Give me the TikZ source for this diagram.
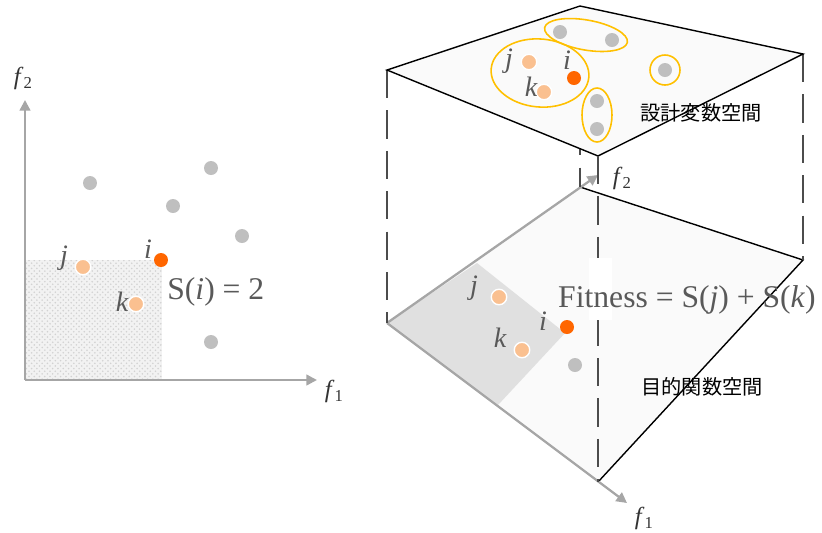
\documentclass[tikz,border=0pt]{standalone}
\usepackage{fontspec}
\setmainfont{Liberation Serif}
\newfontfamily\jpfont{Noto Sans CJK JP}
\usetikzlibrary{arrows.meta,patterns}
\definecolor{dotgray}{HTML}{BFBFBF}
\definecolor{hiorange}{HTML}{FF6600}
\definecolor{peach}{HTML}{FAC090}
\definecolor{ringyellow}{HTML}{FFC000}
\definecolor{txtgray}{HTML}{595959}
\definecolor{axgray}{HTML}{A6A6A6}
\definecolor{planefill}{HTML}{FAFAFA}
\definecolor{domfill}{HTML}{E0E0E0}
\newcommand{\fsub}[1]{\textit{f}\raisebox{-0.4ex}{\fontsize{9.5}{10}\selectfont #1}}

\begin{document}
\begin{tikzpicture}[x=0.02cm,y=-0.02cm,
  gdot/.style={circle,fill=dotgray,minimum size=0.28cm,inner sep=0pt},
  pdot/.style={circle,fill=peach,draw=white,line width=0.8pt,minimum size=0.31cm,inner sep=0pt},
  odot/.style={circle,fill=hiorange,minimum size=0.28cm,inner sep=0pt},
  lbl/.style={font=\fontsize{16}{16}\selectfont\itshape,text=txtgray,inner sep=0pt},
  big/.style={font=\fontsize{18}{18}\selectfont,text=txtgray,inner sep=0pt},
  flbl/.style={font=\fontsize{14}{14}\selectfont,text=black!80,inner sep=0pt},
  jp/.style={font=\jpfont\fontsize{11.5}{12}\selectfont,inner sep=0pt},
  axis/.style={axgray,line width=1.3pt,-{Triangle[length=6pt,width=6pt]}},
  edge/.style={black,line width=0.8pt},
  vline/.style={black!70,line width=0.7pt,dash pattern=on 16pt off 7pt},
  ring/.style={ringyellow,line width=0.9pt}]
\useasboundingbox (0,0) rectangle (822,532);

% left: objective space with the dominated box of i
\fill[gray!10] (25,260) rectangle (162,380);
\fill[pattern=crosshatch dots,pattern color=gray!35] (25,260) rectangle (162,380);
\coordinate (o) at (25,380);
\coordinate (ax1) at (317,380);
\coordinate (ax2) at (25,100);
\draw[axis] (o) -- (ax1);
\draw[axis] (o) -- (ax2);
\node[flbl] (lf1) at (334,391) {\fsub{1}};
\node[flbl] (lf2) at (23,78) {\fsub{2}};

\node[gdot] (lg1) at (90,183) {};
\node[gdot] (lg2) at (211,168) {};
\node[gdot] (lg3) at (173,206) {};
\node[gdot] (lg4) at (242,236) {};
\node[gdot] (lg5) at (211,342) {};
\node[odot] (li) at (161,260) {};
\node[pdot] (lj) at (83,267) {};
\node[pdot] (lk) at (136,304) {};
\node[lbl] at (148,249) {i};
\node[lbl] at (64,258) {j};
\node[lbl] at (122,302) {k};
\node[big,anchor=west] (si) at (167,292) {S(\textit{i}) = 2};

% right: lower plane (objective space)
\coordinate (bl) at (387,323);
\coordinate (bb) at (580,187);
\coordinate (br) at (803,260);
\coordinate (bf) at (598,482);
\fill[planefill] (bl) -- (bb) -- (br) -- (bf) -- cycle;
\fill[domfill] (bl) -- (477,263) -- (565,333) -- (498,405) -- cycle;
\draw[edge] (bb) -- (br) -- (bf);
\coordinate (bx1) at (627,503);
\coordinate (bx2) at (598,175);
\draw[axis] (bl) -- (bx1);
\draw[axis] (bl) -- (bx2);
\node[flbl] (rf1) at (644,518) {\fsub{1}};
\node[flbl] (rf2) at (622,178) {\fsub{2}};

% right: upper plane (design space)
\coordinate (tl) at (387,70);
\coordinate (tb) at (580,6);
\coordinate (tr) at (803,54);
\coordinate (tf) at (598,156);
\draw[vline] (tb) -- (bb);
\draw[vline] (tl) -- (bl);
\draw[vline] (tr) -- (br);
\filldraw[fill=planefill,draw=black,line width=0.8pt] (tl) -- (tb) -- (tr) -- (tf) -- cycle;
\draw[vline] (tf) -- (bf);

\draw[ring,rotate around={-5:(540,73)}] (540,73) ellipse [x radius=49,y radius=34];
\draw[ring,rotate around={-10:(586,35)}] (586,35) ellipse [x radius=42,y radius=15];
\draw[ring] (665,70) circle [radius=15];
\draw[ring] (597,115) ellipse [x radius=15,y radius=27];

\node[gdot] (tg1) at (560,32) {};
\node[gdot] (tg2) at (612,40) {};
\node[gdot] (tg3) at (665,70) {};
\node[gdot] (tg4) at (597,101) {};
\node[gdot] (tg5) at (597,129) {};
\node[pdot] (tj) at (529,62) {};
\node[pdot] (tk) at (544,92) {};
\node[odot] (ti) at (574,78) {};
\node[lbl] at (509,61) {j};
\node[lbl] at (531,87) {k};
\node[lbl] at (567,60) {i};
\node[jp] (dspace) at (701,113) {設計変数空間};

% points in the lower plane
\node[pdot] (bj) at (499,297) {};
\node[pdot] (bk) at (522,350) {};
\node[odot] (bi) at (567,327) {};
\node[gdot] (bg) at (575,365) {};
\node[lbl] at (474,288) {j};
\node[lbl] at (500,338) {k};
\node[lbl] at (543,321) {i};
\fill[white] (589,258) rectangle (612,320);
\node[big] (fit) at (687,300) {Fitness = S(\textit{j}) + S(\textit{k})};
\node[jp] (ospace) at (702,387) {目的関数空間};
\end{tikzpicture}
\end{document}
